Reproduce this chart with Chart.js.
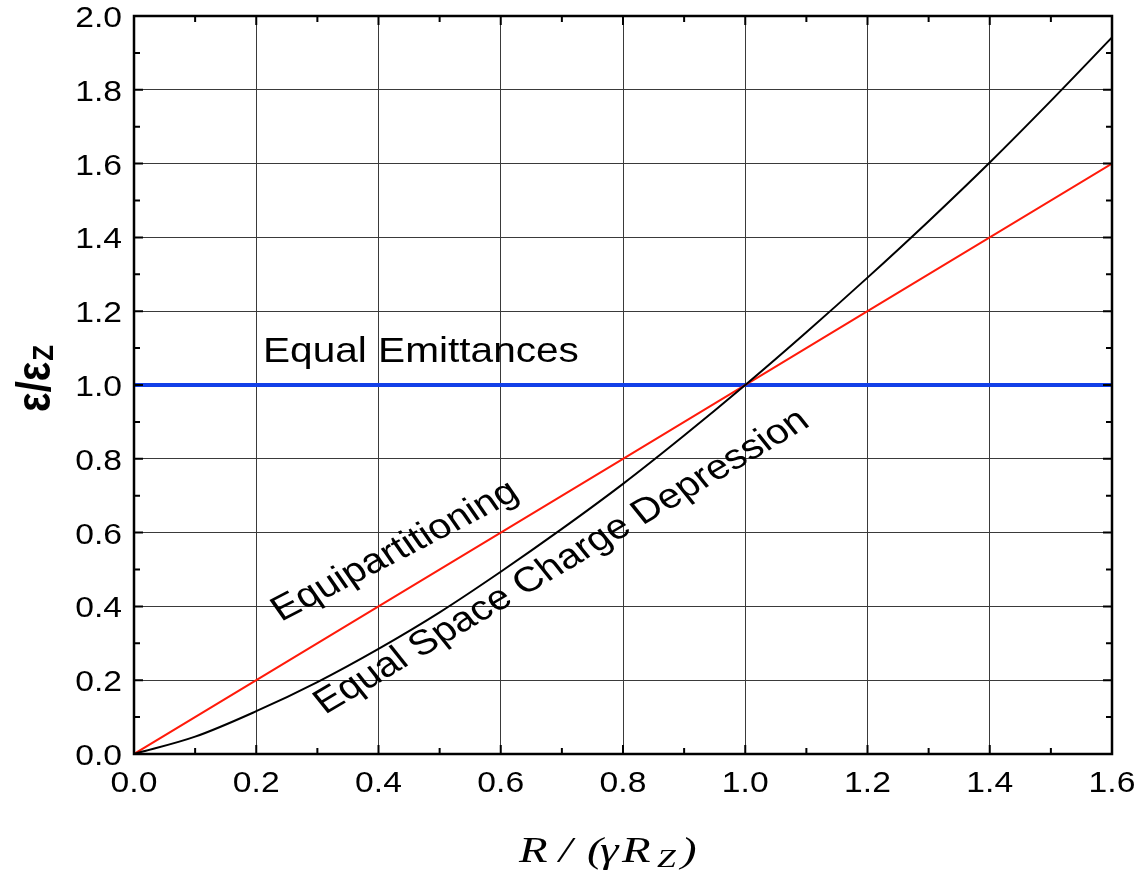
<!DOCTYPE html>
<html>
<head>
<meta charset="utf-8">
<script src="https://cdn.jsdelivr.net/npm/chart.js@4/dist/chart.umd.min.js"></script>
<style>
  body { margin: 0; background: #fff; }
  #wrap { width: 1138px; height: 875px; }
</style>
</head>
<body>
<div id="wrap"><canvas id="chart" width="1138" height="875"></canvas></div>
<script>
const xValues = [0, 0.1, 0.2, 0.3, 0.4, 0.5, 0.6, 0.7, 0.8, 0.9, 1.0, 1.1, 1.2, 1.3, 1.4, 1.5, 1.6];
const chargeDepression = [0, 0.047, 0.116, 0.195, 0.285, 0.384, 0.494, 0.610, 0.732, 0.863, 1.0, 1.143, 1.291, 1.444, 1.603, 1.770, 1.942];
const equipX = [0, 0.4, 0.8, 1.2, 1.6];
const equipY = [0, 0.4, 0.8, 1.2, 1.6];
const emitX = [0, 1.6];
const emitY = [1.0, 1.0];
const xTicks = ["0.0", "0.2", "0.4", "0.6", "0.8", "1.0", "1.2", "1.4", "1.6"];
const yTicks = ["0.0", "0.2", "0.4", "0.6", "0.8", "1.0", "1.2", "1.4", "1.6", "1.8", "2.0"];

const STRETCH = 1.16; // the original text is a bit wider than normal

function pts(xs, ys) {
  return xs.map((x, i) => ({ x: x, y: ys[i] }));
}

function stretchedText(ctx, text, x, y, k) {
  ctx.save();
  ctx.translate(x, y);
  ctx.scale(k || STRETCH, 1);
  ctx.fillText(text, 0, 0);
  ctx.restore();
}

// Draws frame, inward ticks, tick labels, titles and curve labels
const decorations = {
  id: "decorations",
  afterDraw(chart) {
    const ctx = chart.ctx;
    const a = chart.chartArea;
    const xs = chart.scales.x;
    const ys = chart.scales.y;
    ctx.save();

    // frame
    ctx.strokeStyle = "#000";
    ctx.lineWidth = 2.5;
    ctx.strokeRect(a.left, a.top, a.right - a.left, a.bottom - a.top);

    // ticks, all pointing inward
    ctx.lineWidth = 2;
    ctx.beginPath();
    for (let i = 0; i <= 16; i++) {
      const px = xs.getPixelForValue(i / 10);
      const len = i % 2 === 0 ? 9 : 6;
      ctx.moveTo(px, a.bottom); ctx.lineTo(px, a.bottom - len);
      ctx.moveTo(px, a.top); ctx.lineTo(px, a.top + len);
    }
    for (let i = 0; i <= 20; i++) {
      const py = ys.getPixelForValue(i / 10);
      const len = i % 2 === 0 ? 9 : 6;
      ctx.moveTo(a.left, py); ctx.lineTo(a.left + len, py);
      ctx.moveTo(a.right, py); ctx.lineTo(a.right - len, py);
    }
    ctx.stroke();

    // tick labels
    ctx.fillStyle = "#000";
    ctx.font = "29px 'Liberation Sans', Arial, sans-serif";
    ctx.textBaseline = "alphabetic";
    ctx.textAlign = "center";
    xTicks.forEach(t => stretchedText(ctx, t, xs.getPixelForValue(parseFloat(t)), 792));
    ctx.textAlign = "right";
    yTicks.forEach(t => stretchedText(ctx, t, 122, ys.getPixelForValue(parseFloat(t)) + 11));

    // y title: ε/εZ
    ctx.save();
    ctx.translate(50, 412);
    ctx.scale(STRETCH, 1);
    ctx.rotate(-Math.PI / 2);
    ctx.textAlign = "left";
    ctx.font = "bold 41px 'Liberation Sans', Arial, sans-serif";
    ctx.fillText("ε/ε", 0, 0);
    const w = ctx.measureText("ε/ε").width;
    ctx.font = "bold 26px 'Liberation Sans', Arial, sans-serif";
    ctx.fillText("Z", w + 1, 3);
    ctx.restore();

    // x title: R / (γRz), pieces placed to follow the original spacing
    ctx.textAlign = "left";
    ctx.font = "italic 36px 'Liberation Serif', 'Times New Roman', serif";
    [["R", 519], ["/", 559], ["(", 587], ["γ", 600], ["R", 622]].forEach(p => stretchedText(ctx, p[0], p[1], 862, 1.3));
    ctx.font = "italic 26px 'Liberation Serif', 'Times New Roman', serif";
    stretchedText(ctx, "Z", 657, 867, 1.3);
    ctx.font = "italic 36px 'Liberation Serif', 'Times New Roman', serif";
    stretchedText(ctx, ")", 681, 862, 1.3);

    // curve labels
    ctx.font = "35px 'Liberation Sans', Arial, sans-serif";
    const labels = [
      { text: "Equal Emittances", x: 0.211, y: 1.062, angle: 0 },
      { text: "Equipartitioning", x: 0.2406, y: 0.358, angle: 27.4 },
      { text: "Equal Space Charge Depression", x: 0.3126, y: 0.1057, angle: 30.8 }
    ];
    labels.forEach(l => {
      const rad = Math.atan(Math.tan(l.angle * Math.PI / 180) * STRETCH);
      ctx.save();
      ctx.translate(xs.getPixelForValue(l.x), ys.getPixelForValue(l.y));
      ctx.scale(STRETCH, 1);
      ctx.rotate(-rad);
      ctx.fillText(l.text, 0, 0);
      ctx.restore();
    });

    ctx.restore();
  }
};

new Chart(document.getElementById("chart"), {
  type: "scatter",
  data: {
    datasets: [
      {
        label: "Equal Space Charge Depression",
        data: pts(xValues, chargeDepression),
        showLine: true,
        borderColor: "#000",
        borderWidth: 2,
        pointRadius: 0,
        cubicInterpolationMode: "monotone",
        order: 1
      },
      {
        label: "Equipartitioning",
        data: pts(equipX, equipY),
        showLine: true,
        borderColor: "#ff1a0a",
        borderWidth: 2,
        pointRadius: 0,
        order: 2
      },
      {
        label: "Equal Emittances",
        data: pts(emitX, emitY),
        showLine: true,
        borderColor: "#1240e8",
        borderWidth: 4,
        pointRadius: 0,
        order: 3
      }
    ]
  },
  options: {
    responsive: false,
    animation: false,
    layout: { padding: { left: 134, right: 26, top: 16, bottom: 121 } },
    plugins: {
      legend: { display: false },
      tooltip: { enabled: false }
    },
    scales: {
      x: {
        type: "linear",
        min: 0,
        max: 1.6,
        ticks: { display: false, stepSize: 0.2 },
        grid: { color: "#3a3a3a", lineWidth: 1, drawTicks: false },
        border: { display: false }
      },
      y: {
        type: "linear",
        min: 0,
        max: 2.0,
        ticks: { display: false, stepSize: 0.2 },
        grid: { color: "#3a3a3a", lineWidth: 1, drawTicks: false },
        border: { display: false }
      }
    }
  },
  plugins: [decorations]
});
</script>
</body>
</html>
